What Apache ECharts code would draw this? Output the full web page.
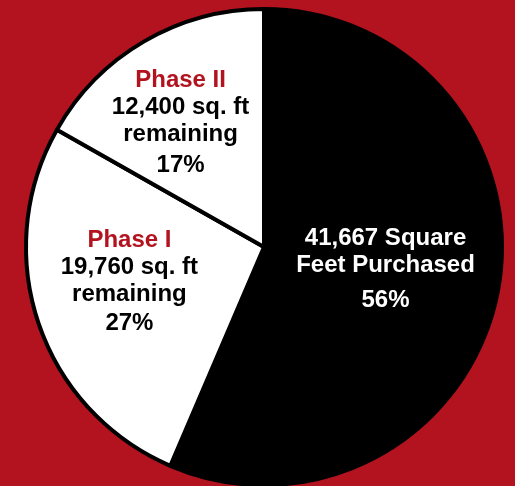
<!DOCTYPE html>
<html>
<head>
<meta charset="utf-8">
<script src="https://cdn.jsdelivr.net/npm/echarts@6/dist/echarts.min.js"></script>
<style>
html,body{margin:0;padding:0;background:#b2131f;}
#chart{width:515px;height:486px;}
</style>
</head>
<body>
<div id="chart"></div>
<script>
const categories = ['Purchased', 'Phase I', 'Phase II'];
const squareFeet = [41667, 19760, 12400];
const headings = ['', 'Phase I', 'Phase II'];
const descriptions = ['41,667 Square\nFeet Purchased', '19,760 sq. ft\nremaining', '12,400 sq. ft\nremaining'];
const percentLabels = ['56%', '27%', '17%'];

const RED = '#b2131f';
const sliceColors = ['#000000', '#ffffff', '#ffffff'];
const textColors = ['#ffffff', '#000000', '#000000'];
const labelShift = [[2, 2], [-19, -3.5], [-22, -16.5]];
const pctLineHeight = [43, 31, 35];
const FONT = '"Liberation Sans", Arial, sans-serif';

const data = categories.map((c, i) => ({
  name: c,
  value: squareFeet[i],
  itemStyle: { color: sliceColors[i] },
  label: {
    formatter: () => {
      const parts = [];
      if (headings[i]) parts.push('{h|' + headings[i] + '}');
      descriptions[i].split('\n').forEach(l => parts.push('{t|' + l + '}'));
      parts.push('{p|' + percentLabels[i] + '}');
      return parts.join('\n');
    },
    rich: {
      h: { color: RED, fontSize: 24, fontWeight: 'bold', fontFamily: FONT, lineHeight: 27 },
      t: { color: textColors[i], fontSize: 24, fontWeight: 'bold', fontFamily: FONT, lineHeight: 27 },
      p: { color: textColors[i], fontSize: 24, fontWeight: 'bold', fontFamily: FONT, lineHeight: pctLineHeight[i] }
    }
  }
}));

const chart = echarts.init(document.getElementById('chart'), null, { renderer: 'canvas' });
chart.setOption({
  backgroundColor: RED,
  animation: false,
  series: [{
    type: 'pie',
    center: [264, 247],
    radius: 238,
    startAngle: 90,
    clockwise: true,
    silent: true,
    itemStyle: { borderColor: '#000', borderWidth: 4 },
    label: { show: true, position: 'inside', align: 'center' },
    labelLine: { show: false },
    labelLayout: (p) => ({ dx: labelShift[p.dataIndex][0], dy: labelShift[p.dataIndex][1] }),
    data: data
  }]
});
</script>
</body>
</html>
